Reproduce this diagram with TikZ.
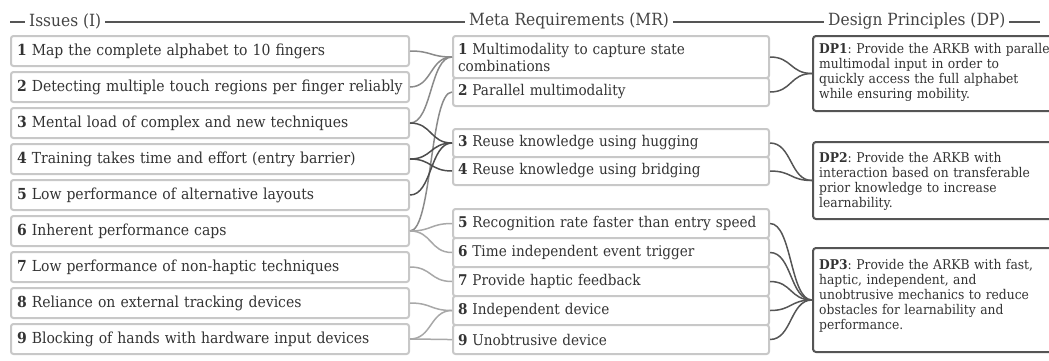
\documentclass[tikz,border=0pt]{standalone}
\usepackage{fontspec}
\setmainfont{DejaVu Serif}[FakeStretch=0.92]
\definecolor{boxgray}{HTML}{C8C8C8}
\definecolor{txt}{HTML}{333333}
\definecolor{hdrtxt}{HTML}{444444}
\definecolor{dpline}{HTML}{555555}
\definecolor{cmid}{HTML}{8A8A8A}
\definecolor{cdark}{HTML}{4D4D4D}
\definecolor{clight}{HTML}{A8A8A8}
\tikzset{
  basebox/.style={line width=2pt, fill=white, text=txt, anchor=north west,
    inner ysep=0pt, inner xsep=6pt, align=left},
  ibox/.style={basebox, draw=boxgray, rounded corners=2.5pt, text width=386pt,
    minimum height=30pt, font=\fontsize{15.2}{17}\selectfont},
  mrbox/.style={basebox, draw=boxgray, rounded corners=2.5pt, text width=306pt,
    inner xsep=5pt, font=\fontsize{14.8}{17}\selectfont},
  dpbox/.style={basebox, draw=dpline, rounded corners=3pt, minimum width=260pt},
  dptext/.style={text=txt, anchor=west, inner sep=0pt, align=left, text width=300pt,
    font=\fontsize{13.4}{15}\selectfont\frenchspacing},
  hdr/.style={fill=white, text=hdrtxt, inner xsep=4pt, inner ysep=1pt, anchor=west,
    font=\fontsize{16.8}{18}\selectfont},
  hdrline/.style={line width=1.3pt, draw=dpline},
  lk/.style={line width=1.5pt},
  lkmid/.style={lk, draw=cmid},
  lkdark/.style={lk, draw=cdark},
  lklight/.style={lk, draw=clight},
  lkdp/.style={lk, draw=dpline}
}
\begin{document}
\begin{tikzpicture}[x=1pt,y=-1pt]
\useasboundingbox (0,0) rectangle (1049,360);
\clip (0,0) rectangle (1049,360);
% headers
\draw[hdrline] (10,22) -- (1040,22);
\node[hdr] (h1) at (25,21) {Issues (I)};
\node[hdr] (h2) at (465,21) {Meta Requirements (MR)};
\node[hdr] (h3) at (824,21) {Design Principles (DP)};
% issues
\node[ibox] (i1) at (10,35)  {\textbf{1} Map the complete alphabet to 10 fingers};
\node[ibox] (i2) at (10,71)  {\textbf{2} Detecting multiple touch regions per finger reliably};
\node[ibox] (i3) at (10,107) {\textbf{3} Mental load of complex and new techniques};
\node[ibox] (i4) at (10,143) {\textbf{4} Training takes time and effort (entry barrier)};
\node[ibox] (i5) at (10,179) {\textbf{5} Low performance of alternative layouts};
\node[ibox] (i6) at (10,215) {\textbf{6} Inherent performance caps};
\node[ibox] (i7) at (10,251) {\textbf{7} Low performance of non-haptic techniques};
\node[ibox] (i8) at (10,287) {\textbf{8} Reliance on external tracking devices};
\node[ibox] (i9) at (10,323) {\textbf{9} Blocking of hands with hardware input devices};
% meta requirements
\node[mrbox, minimum height=42pt] (m1) at (452,35) {\textbf{1} Multimodality to capture state\\combinations};
\node[mrbox, minimum height=28pt] (m2) at (452,77) {\textbf{2} Parallel multimodality};
\node[mrbox, minimum height=28pt] (m3) at (452,128) {\textbf{3} Reuse knowledge using hugging};
\node[mrbox, minimum height=28pt] (m4) at (452,156) {\textbf{4} Reuse knowledge using bridging};
\node[mrbox, minimum height=29pt] (m5) at (452,208) {\textbf{5} Recognition rate faster than entry speed};
\node[mrbox, minimum height=29pt] (m6) at (452,237) {\textbf{6} Time independent event trigger};
\node[mrbox, minimum height=29pt] (m7) at (452,266) {\textbf{7} Provide haptic feedback};
\node[mrbox, minimum height=29pt] (m8) at (452,295) {\textbf{8} Independent device};
\node[mrbox, minimum height=29pt] (m9) at (452,324) {\textbf{9} Unobtrusive device};
% design principles
\node[dpbox, minimum height=75pt] (d1) at (812,35) {};
\node[dpbox, minimum height=77pt] (d2) at (812,141) {};
\node[dpbox, minimum height=104pt] (d3) at (812,247) {};
\node[dptext] (d1t) at (819,72) {\textbf{DP1}: Provide the ARKB with parallel\\multimodal input in order to\\quickly access the full alphabet\\while ensuring mobility.};
\node[dptext] (d2t) at (819,181) {\textbf{DP2}: Provide the ARKB with\\interaction based on transferable\\prior knowledge to increase\\learnability.};
\node[dptext] (d3t) at (819,296) {\textbf{DP3}: Provide the ARKB with fast,\\haptic, independent, and\\unobtrusive mechanics to reduce\\obstacles for learnability and\\performance.};
% issue -> MR links
\draw[lkmid] (i1.east) .. controls +(22,0) and +(-22,0) .. (m1.west);
\draw[lkmid] (i2.east) .. controls +(22,0) and +(-22,0) .. (m1.west);
\draw[lkmid] (i3.east) .. controls +(22,0) and +(-22,0) .. (m1.west);
\draw[lkmid] (i6.east) .. controls +(22,0) and +(-22,0) .. (m2.west);
\draw[lklight] (i6.east) .. controls +(22,0) and +(-22,0) .. (m5.west);
\draw[lklight] (i6.east) .. controls +(22,0) and +(-22,0) .. (m6.west);
\draw[lklight] (i7.east) .. controls +(22,0) and +(-22,0) .. (m7.west);
\draw[lklight] (i8.east) .. controls +(22,0) and +(-22,0) .. (m8.west);
\draw[lklight] (i9.east) .. controls +(22,0) and +(-22,0) .. (m8.west);
\draw[lklight] (i9.east) .. controls +(22,0) and +(-22,0) .. (m9.west);
\draw[lkdark] (i3.east) .. controls +(22,0) and +(-22,0) .. (m3.west);
\draw[lkdark] (i4.east) .. controls +(22,0) and +(-22,0) .. (m3.west);
\draw[lkdark] (i4.east) .. controls +(22,0) and +(-22,0) .. (m4.west);
\draw[lkdark] (i5.east) .. controls +(22,0) and +(-22,0) .. (m3.west);
% MR -> DP links
\draw[lkdp] (m1.east) .. controls +(22,0) and +(-22,0) .. (d1.west);
\draw[lkdp] (m2.east) .. controls +(22,0) and +(-22,0) .. (d1.west);
\draw[lkdp] (m3.east) .. controls +(22,0) and +(-22,0) .. (d2.west);
\draw[lkdp] (m4.east) .. controls +(22,0) and +(-22,0) .. (d2.west);
\draw[lkdp] (m5.east) .. controls +(22,0) and +(-22,0) .. (d3.west);
\draw[lkdp] (m6.east) .. controls +(22,0) and +(-22,0) .. (d3.west);
\draw[lkdp] (m7.east) .. controls +(22,0) and +(-22,0) .. (d3.west);
\draw[lkdp] (m8.east) .. controls +(22,0) and +(-22,0) .. (d3.west);
\draw[lkdp] (m9.east) .. controls +(22,0) and +(-22,0) .. (d3.west);
\end{tikzpicture}
\end{document}
